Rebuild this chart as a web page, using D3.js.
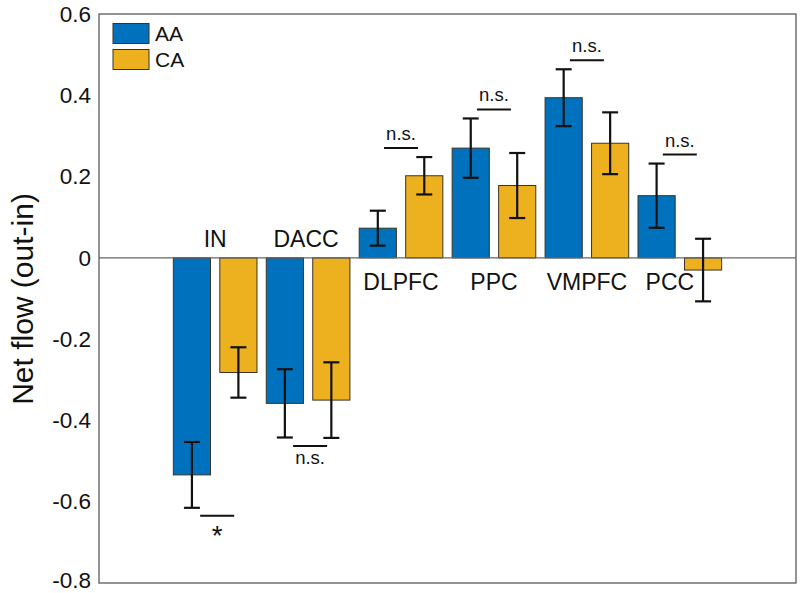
<!DOCTYPE html>
<html>
<head>
<meta charset="utf-8">
<script src="https://cdn.jsdelivr.net/npm/d3@7"></script>
<style>
  html, body { margin: 0; padding: 0; background: #fff; }
  svg { display: block; font-family: "Liberation Sans", Arial, Helvetica, sans-serif; }
</style>
</head>
<body>
<svg id="chart" width="800" height="593"></svg>
<script>
// ---- data ----
const regions = ["IN", "DACC", "DLPFC", "PPC", "VMPFC", "PCC"];
const seriesNames = ["AA", "CA"];
const aaMean = [-0.534, -0.358, 0.073, 0.270, 0.394, 0.153];
const aaErr  = [0.081, 0.084, 0.043, 0.073, 0.070, 0.079];
const caMean = [-0.282, -0.350, 0.202, 0.178, 0.282, -0.030];
const caErr  = [0.062, 0.093, 0.046, 0.080, 0.076, 0.077];
const sigLabels = ["*", "n.s.", "n.s.", "n.s.", "n.s.", "n.s."];
const yTicks = [-0.8, -0.6, -0.4, -0.2, 0, 0.2, 0.4, 0.6];
const yLabel = "Net flow (out-in)";

// ---- layout ----
const colors = ["#0072BD", "#EDB120"];
const L = 99, R = 796, T = 14, B = 583;
const labelNudge = { PCC: -10, DACC: -2 };
const svg = d3.select("#chart");

const x = d3.scaleLinear().domain([-0.25, 7.25]).range([L, R]);
const y = d3.scaleLinear().domain([-0.8, 0.6]).range([B, T]);
const barW = 0.4, off = 0.25;

const means = [aaMean, caMean];
const errs = [aaErr, caErr];

// y axis tick labels (no tick marks)
const yAxis = d3.axisLeft(y).tickValues(yTicks).tickSize(0).tickPadding(8)
  .tickFormat(d => d === 0 ? "0" : d.toFixed(1));
const ga = svg.append("g").attr("transform", `translate(${L},0)`).call(yAxis);
ga.select(".domain").remove();
ga.selectAll("text").attr("font-size", 22.5).attr("fill", "#111")
  .attr("font-family", "Liberation Sans, Arial, sans-serif");
// keep the lowest label inside the canvas
ga.selectAll(".tick").filter(d => d === yTicks[0]).select("text").attr("y", -2.5);

// bars
const barData = [];
regions.forEach((r, i) => {
  [0, 1].forEach(s => {
    barData.push({ i, s, v: means[s][i], e: errs[s][i] });
  });
});
const cx = d => x(d.i + 1 + (d.s === 0 ? -off : off));

svg.append("g").selectAll("rect").data(barData).join("rect")
  .attr("x", d => x(d.i + 1 + (d.s === 0 ? -off : off) - barW / 2))
  .attr("width", d => x(barW) - x(0))
  .attr("y", d => y(Math.max(0, d.v)))
  .attr("height", d => Math.abs(y(d.v) - y(0)))
  .attr("fill", d => colors[d.s])
  .attr("stroke", "#3a3325").attr("stroke-width", 1);

// zero line
svg.append("line").attr("x1", L).attr("x2", R).attr("y1", y(0)).attr("y2", y(0))
  .attr("stroke", "#666").attr("stroke-width", 1.2);

// error bars
const eb = svg.append("g").attr("stroke", "#111").attr("stroke-width", 2.2);
barData.forEach(d => {
  const xc = cx(d);
  eb.append("line").attr("x1", xc).attr("x2", xc).attr("y1", y(d.v + d.e)).attr("y2", y(d.v - d.e));
  eb.append("line").attr("x1", xc - 8).attr("x2", xc + 8).attr("y1", y(d.v + d.e)).attr("y2", y(d.v + d.e));
  eb.append("line").attr("x1", xc - 8).attr("x2", xc + 8).attr("y1", y(d.v - d.e)).attr("y2", y(d.v - d.e));
});

// region labels
regions.forEach((r, i) => {
  const neg = aaMean[i] < 0;
  svg.append("text")
    .attr("x", x(i + 1) + (labelNudge[r] || 0))
    .attr("y", neg ? y(0) - 11 : y(0) + 32)
    .attr("text-anchor", "middle")
    .attr("font-size", 23).attr("fill", "#111")
    .text(r);
});

// significance annotations
const sg = svg.append("g");
regions.forEach((r, i) => {
  const below = aaMean[i] < 0 && caMean[i] < 0;
  const xc = x(i + 1);
  const hw = 17;
  if (below) {
    const lo = Math.min(aaMean[i] - aaErr[i], caMean[i] - caErr[i]);
    const ly = y(lo) + 8;
    sg.append("line").attr("x1", xc - hw + 2).attr("x2", xc + hw + 2).attr("y1", ly).attr("y2", ly)
      .attr("stroke", "#111").attr("stroke-width", 2);
    const isStar = sigLabels[i] === "*";
    sg.append("text").attr("x", xc + 2).attr("y", isStar ? ly + 29 : ly + 18)
      .attr("text-anchor", "middle").attr("font-size", isStar ? 28 : 18.5).attr("fill", "#111")
      .text(sigLabels[i]);
  } else {
    const hi = Math.max(aaMean[i] + aaErr[i], caMean[i] + caErr[i]);
    const ly = y(hi) - 9;
    sg.append("line").attr("x1", xc - hw).attr("x2", xc + hw).attr("y1", ly).attr("y2", ly)
      .attr("stroke", "#111").attr("stroke-width", 2);
    sg.append("text").attr("x", xc).attr("y", ly - 8)
      .attr("text-anchor", "middle").attr("font-size", 18.5).attr("fill", "#111")
      .text(sigLabels[i]);
  }
});

// axes box
svg.append("rect").attr("x", L).attr("y", T).attr("width", R - L).attr("height", B - T)
  .attr("fill", "none").attr("stroke", "#666").attr("stroke-width", 1.4);

// y label
svg.append("text")
  .attr("transform", `translate(33,${(185 + 413) / 2}) rotate(-90)`)
  .attr("text-anchor", "middle").attr("font-size", 30).attr("fill", "#111")
  .text(yLabel);

// legend
const lg = svg.append("g");
seriesNames.forEach((n, k) => {
  const ty = 23.5 + k * 26;
  lg.append("rect").attr("x", 113).attr("y", ty).attr("width", 36).attr("height", 20)
    .attr("fill", colors[k]).attr("stroke", "#3a3325").attr("stroke-width", 1);
  lg.append("text").attr("x", 155).attr("y", ty + 17).attr("font-size", 21).attr("fill", "#111").text(n);
});
</script>
</body>
</html>
